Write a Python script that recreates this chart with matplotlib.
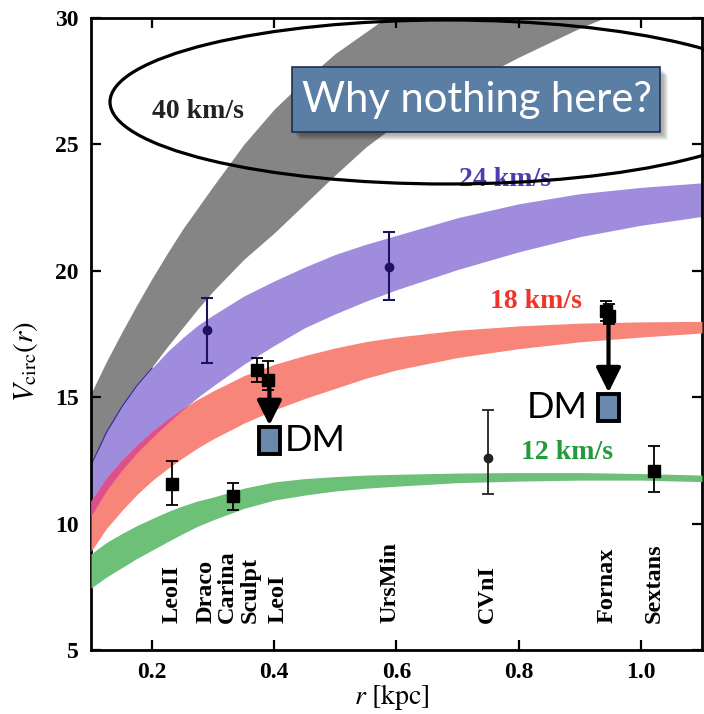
import numpy as np
import matplotlib.pyplot as plt
from matplotlib.patches import Ellipse, Rectangle, FancyArrowPatch

plt.rcParams['mathtext.fontset'] = 'stix'

# radius grid (kpc) at which the band edges were read
r_grid = [0.1, 0.125, 0.15, 0.175, 0.2, 0.225, 0.25, 0.275, 0.3, 0.35, 0.4, 0.45, 0.5, 0.55, 0.6,
          0.7, 0.8, 0.9, 1.0, 1.1]

# 40 km/s band
gray_hi = [15.15, 16.4, 17.55, 18.65, 19.7, 20.7, 21.65, 22.5, 23.35, 25.0, 26.4, 27.55, 28.6, 29.45, 30.3,
           31.6, 32.6, 33.3, 33.9, 34.3]
gray_lo = [12.4, 13.45, 14.6, 15.45, 16.2, 17.0, 17.75, 18.5, 19.2, 20.45, 21.5, 22.65, 23.8, 24.9, 25.8,
           27.2, 28.45, 29.6, 30.6, 31.5]
# 24 km/s band
purple_hi = [12.3, 13.6, 14.6, 15.45, 16.15, 16.8, 17.35, 17.85, 18.25, 19.0, 19.6, 20.15, 20.65, 21.05, 21.4,
             22.1, 22.65, 23.05, 23.3, 23.48]
purple_lo = [10.3, 11.3, 12.1, 12.8, 13.4, 13.97, 14.5, 15.0, 15.45, 16.3, 17.05, 17.75, 18.3, 18.8, 19.25,
             20.05, 20.75, 21.35, 21.8, 22.15]
# 18 km/s band
red_hi = [10.9, 11.8, 12.5, 13.1, 13.65, 14.12, 14.55, 14.92, 15.25, 15.85, 16.3, 16.65, 16.95, 17.2, 17.38,
          17.65, 17.82, 17.93, 17.98, 18.0]
red_lo = [8.9, 9.8, 10.5, 11.15, 11.7, 12.17, 12.6, 13.0, 13.35, 13.97, 14.5, 14.95, 15.35, 15.75, 16.08,
          16.57, 16.92, 17.19, 17.38, 17.54]
# 12 km/s band
green_hi = [8.8, 9.25, 9.6, 9.92, 10.2, 10.47, 10.7, 10.9, 11.05, 11.4, 11.65, 11.78, 11.86, 11.92, 11.95,
            12.0, 12.02, 12.02, 11.98, 11.92]
green_lo = [7.45, 7.88, 8.25, 8.62, 8.95, 9.28, 9.6, 9.9, 10.15, 10.6, 10.93, 11.13, 11.29, 11.4, 11.48,
            11.62, 11.68, 11.72, 11.72, 11.66]

band_labels = ['40 km/s', '24 km/s', '18 km/s', '12 km/s']
band_label_r = [0.275, 0.777, 0.828, 0.879]
band_label_v = [26.3, 23.63, 18.78, 12.81]

# dwarf spheroidals
gal_names = ['LeoII', 'Draco', 'Carina', 'Sculpt', 'LeoI', 'UrsMin', 'CVnI', 'Fornax', 'Sextans']
gal_label_r = [0.232, 0.288, 0.323, 0.361, 0.406, 0.589, 0.749, 0.945, 1.021]

sq_r = [0.233, 0.333, 0.371, 0.39, 0.943, 0.947, 1.021]
sq_v = [11.55, 11.08, 16.08, 15.7, 18.42, 18.22, 12.08]
sq_lo = [10.73, 10.54, 15.6, 15.3, 18.0, 17.9, 11.26]
sq_hi = [12.48, 11.62, 16.55, 16.45, 18.8, 18.7, 13.07]

dot_r = [0.29, 0.588, 0.75]
dot_v = [17.65, 20.16, 12.58]
dot_lo = [16.35, 18.84, 11.17]
dot_hi = [18.92, 21.55, 14.51]

# "DM" corrected points and where the arrows start
dm_r = [0.392, 0.947]
dm_v = [13.3, 14.6]
dm_from = [15.7, 18.3]

fig = plt.figure(figsize=(7.04, 7.14), dpi=100)
ax = fig.add_axes([91 / 704, 1 - 650 / 714, 611 / 704, 632 / 714])

r = np.array(r_grid)
ax.fill_between(r, gray_lo, gray_hi, color='#858585', lw=0, zorder=1)
ax.fill_between(r, purple_lo, purple_hi, color='#a08cdc', lw=0, zorder=2)
m = r <= 0.2
ax.plot(r[m], np.array(purple_hi)[m], color='#3a2fa8', lw=0.9, zorder=2.5)
ax.fill_between(r, red_lo, red_hi, color='#f8857a', lw=0, zorder=3)
p_lo = np.array(purple_lo)
r_hi = np.array(red_hi)
ax.fill_between(r, p_lo, np.minimum(r_hi, purple_hi), where=r_hi > p_lo,
                interpolate=True, color='#de4f8e', lw=0, zorder=4)
ax.fill_between(r, green_lo, green_hi, color='#6cc077', lw=0, zorder=5)

label_colors = ['#222222', '#4a3db5', '#f0332b', '#229a3e']
for t, x, y, c in zip(band_labels, band_label_r, band_label_v, label_colors):
    ax.text(x, y, t, color=c, fontsize=20, fontweight='bold', family='Liberation Serif',
            ha='center', va='center', zorder=8)

for name, x in zip(gal_names, gal_label_r):
    ax.text(x, 6.05, name, rotation=90, ha='center', va='bottom', fontsize=17.5,
            fontweight='bold', family='Liberation Serif', zorder=8)

ax.errorbar(sq_r, sq_v, yerr=[np.subtract(sq_v, sq_lo), np.subtract(sq_hi, sq_v)],
            fmt='s', color='black', ms=9, lw=1.3, capsize=4, capthick=1.3, zorder=9)
ax.errorbar(dot_r[:2], dot_v[:2], yerr=[np.subtract(dot_v, dot_lo)[:2], np.subtract(dot_hi, dot_v)[:2]],
            fmt='o', color='#1b1360', ms=6, lw=1.5, capsize=4, capthick=1.5, zorder=9)
ax.errorbar(dot_r[2:], dot_v[2:], yerr=[np.subtract(dot_v, dot_lo)[2:], np.subtract(dot_hi, dot_v)[2:]],
            fmt='o', color='#222222', ms=6, lw=1.3, capsize=4, capthick=1.3, zorder=9)

box_w, box_h = 0.034, 1.08
for x, y, y0 in zip(dm_r, dm_v, dm_from):
    ax.add_patch(Rectangle((x - box_w / 2, y - box_h / 2), box_w, box_h, facecolor='#6a88ad',
                           edgecolor='black', lw=2.8, zorder=11))
    ax.add_patch(FancyArrowPatch((x, y0), (x, y + box_h / 2 + 0.05),
                                 arrowstyle='-|>,head_length=0.6,head_width=0.3',
                                 mutation_scale=25, color='black', lw=3, zorder=10,
                                 shrinkA=0, shrinkB=0))
ax.text(0.417, dm_v[0], 'DM', fontsize=26, family='Lato', ha='left', va='center', zorder=12)
ax.text(0.912, dm_v[1], 'DM', fontsize=26, family='Lato', ha='right', va='center', zorder=12)

ax.set_xlim(0.1, 1.1)
ax.set_ylim(5, 30)
ax.set_xticks([0.2, 0.4, 0.6, 0.8, 1.0])
ax.set_xticklabels(['0.2', '0.4', '0.6', '0.8', '1.0'])
ax.set_yticks([5, 10, 15, 20, 25, 30])
ax.tick_params(direction='in', length=7, width=1.6, top=True, right=True, labelsize=17, pad=9)
for lab in ax.get_xticklabels() + ax.get_yticklabels():
    lab.set_family('Liberation Serif')
    lab.set_fontweight('bold')
for s in ax.spines.values():
    s.set_linewidth(2)

fig.text(25 / 704, 1 - 362 / 714, r'$V_{\rm circ}(r)$', rotation=90, ha='center', va='center', fontsize=21)
fig.text(392 / 704, 1 - 697 / 714, r'$r\ [{\rm kpc}]$', ha='center', va='center', fontsize=20)

# slide annotations
fig.add_artist(Ellipse((447 / 704, 1 - 102 / 714), 674 / 704, 164 / 714, transform=fig.transFigure,
                       fill=False, edgecolor='black', lw=2.3, zorder=20))
for k in range(6):
    fig.add_artist(Rectangle(((292 + 3 + k) / 704, 1 - (132 + 3 + k) / 714), 368 / 704, 65 / 714,
                             transform=fig.transFigure, facecolor='black', alpha=0.06,
                             lw=0, zorder=20))
fig.add_artist(Rectangle((292 / 704, 1 - 132 / 714), 368 / 704, 65 / 714, transform=fig.transFigure,
                         facecolor='#5b7ea4', edgecolor='#1d2f4f', lw=1.2, zorder=21))
fig.text(477 / 704, 1 - 112 / 714, 'Why nothing here?', color='white', fontsize=30, family='Lato',
         ha='center', va='baseline', zorder=22)

fig.savefig('out.png', dpi=100)
